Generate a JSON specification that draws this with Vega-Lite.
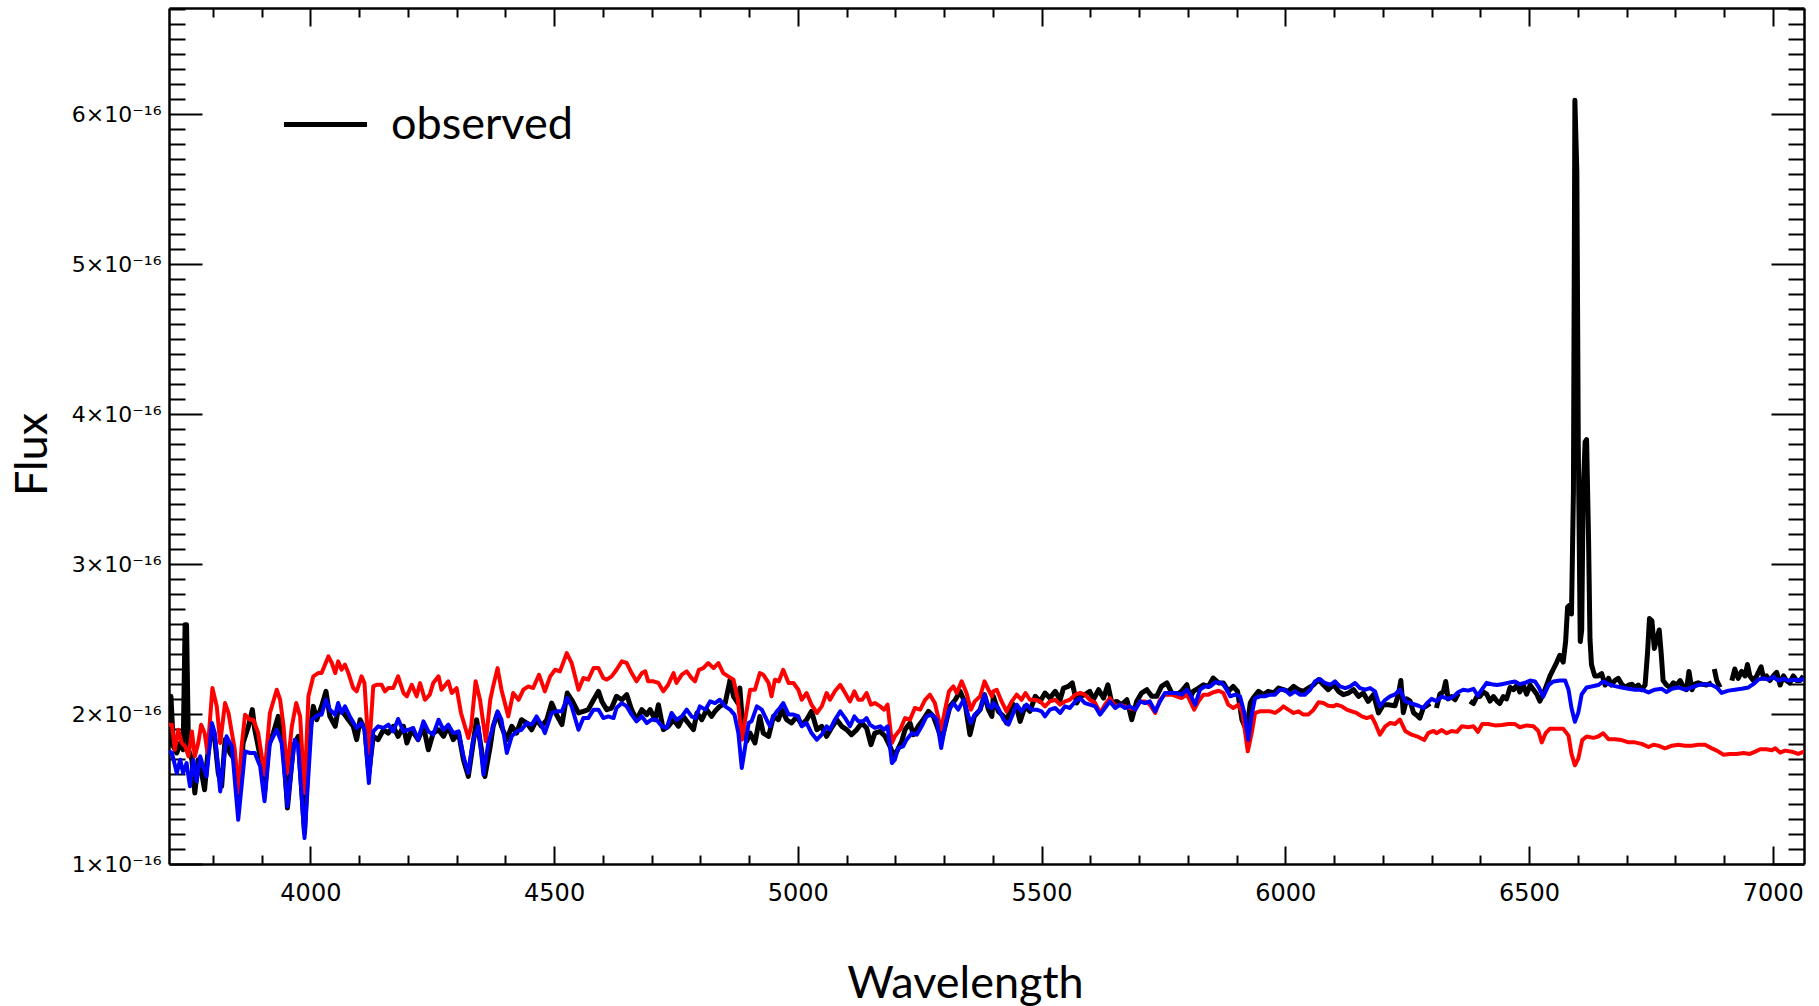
{
 "$schema": "https://vega.github.io/schema/vega-lite/v6.json",
 "width": 1635,
 "height": 856,
 "autosize": {"type": "none"},
 "padding": {"left": 169, "top": 8, "right": 15, "bottom": 142},
 "background": "white",
 "config": {
  "view": {"stroke": null},
  "axis": {"domainColor": "black", "domainWidth": 2.5, "tickColor": "black", "tickWidth": 2, "labelColor": "black", "titleColor": "black", "grid": false, "labelFont": "DejaVu Sans", "titleFont": "Lato", "titleFontWeight": "normal", "labelFlush": false, "labelOverlap": false}
 },
 "datasets": {
  "obs": [
{"w":3710,"f":1.784e-16},{"w":3714,"f":2.118e-16},{"w":3719,"f":1.784e-16},{"w":3726,"f":1.740e-16},{"w":3733,"f":1.807e-16},{"w":3739,"f":1.762e-16},{"w":3743,"f":2.595e-16},{"w":3746,"f":2.595e-16},{"w":3750,"f":1.762e-16},{"w":3757,"f":1.695e-16},{"w":3763,"f":1.473e-16},{"w":3770,"f":1.695e-16},{"w":3777,"f":1.607e-16},{"w":3783,"f":1.495e-16},{"w":3789,"f":1.718e-16},{"w":3798,"f":1.918e-16},{"w":3804,"f":1.829e-16},{"w":3811,"f":1.607e-16},{"w":3818,"f":1.518e-16},{"w":3825,"f":1.829e-16},{"w":3835,"f":1.740e-16},{"w":3845,"f":1.695e-16},{"w":3852,"f":1.384e-16},{"w":3862,"f":1.807e-16},{"w":3873,"f":1.918e-16},{"w":3881,"f":2.029e-16},{"w":3886,"f":1.895e-16},{"w":3897,"f":1.718e-16},{"w":3906,"f":1.473e-16},{"w":3914,"f":1.784e-16},{"w":3924,"f":1.873e-16},{"w":3934,"f":1.984e-16},{"w":3945,"f":1.762e-16},{"w":3953,"f":1.373e-16},{"w":3965,"f":1.784e-16},{"w":3975,"f":1.851e-16},{"w":3988,"f":1.207e-16},{"w":3997,"f":1.829e-16},{"w":4006,"f":2.051e-16},{"w":4013,"f":1.962e-16},{"w":4023,"f":2.051e-16},{"w":4032,"f":2.151e-16},{"w":4040,"f":1.984e-16},{"w":4051,"f":1.918e-16},{"w":4057,"f":2.029e-16},{"w":4068,"f":2.007e-16},{"w":4078,"f":1.962e-16},{"w":4088,"f":1.918e-16},{"w":4095,"f":1.829e-16},{"w":4102,"f":1.962e-16},{"w":4112,"f":1.895e-16},{"w":4120,"f":1.607e-16},{"w":4129,"f":1.851e-16},{"w":4139,"f":1.829e-16},{"w":4150,"f":1.895e-16},{"w":4160,"f":1.873e-16},{"w":4170,"f":1.918e-16},{"w":4180,"f":1.851e-16},{"w":4191,"f":1.918e-16},{"w":4198,"f":1.807e-16},{"w":4208,"f":1.895e-16},{"w":4221,"f":1.829e-16},{"w":4232,"f":1.918e-16},{"w":4242,"f":1.762e-16},{"w":4252,"f":1.873e-16},{"w":4263,"f":1.895e-16},{"w":4273,"f":1.851e-16},{"w":4283,"f":1.918e-16},{"w":4293,"f":1.829e-16},{"w":4304,"f":1.873e-16},{"w":4314,"f":1.695e-16},{"w":4324,"f":1.584e-16},{"w":4334,"f":1.807e-16},{"w":4341,"f":1.962e-16},{"w":4351,"f":1.762e-16},{"w":4358,"f":1.584e-16},{"w":4369,"f":1.784e-16},{"w":4375,"f":1.918e-16},{"w":4384,"f":2.007e-16},{"w":4392,"f":1.918e-16},{"w":4403,"f":1.829e-16},{"w":4413,"f":1.918e-16},{"w":4423,"f":1.873e-16},{"w":4433,"f":1.962e-16},{"w":4444,"f":1.940e-16},{"w":4454,"f":1.895e-16},{"w":4464,"f":1.962e-16},{"w":4474,"f":1.918e-16},{"w":4485,"f":1.962e-16},{"w":4495,"f":2.073e-16},{"w":4505,"f":1.995e-16},{"w":4516,"f":1.929e-16},{"w":4527,"f":2.140e-16},{"w":4536,"f":2.095e-16},{"w":4550,"f":2.007e-16},
{"w":4560,"f":2.018e-16},{"w":4570,"f":2.029e-16},{"w":4581,"f":2.095e-16},{"w":4591,"f":2.151e-16},{"w":4598,"f":2.084e-16},{"w":4608,"f":2.029e-16},{"w":4618,"f":2.040e-16},{"w":4628,"f":2.118e-16},{"w":4639,"f":2.095e-16},{"w":4649,"f":2.129e-16},{"w":4659,"f":2.029e-16},{"w":4669,"f":1.962e-16},{"w":4680,"f":2.029e-16},{"w":4690,"f":1.996e-16},{"w":4697,"f":2.029e-16},{"w":4707,"f":1.962e-16},{"w":4714,"f":2.062e-16},{"w":4724,"f":1.896e-16},{"w":4734,"f":1.918e-16},{"w":4745,"f":1.962e-16},{"w":4755,"f":1.918e-16},{"w":4765,"f":1.984e-16},{"w":4775,"f":1.940e-16},{"w":4786,"f":1.896e-16},{"w":4793,"f":2.007e-16},{"w":4803,"f":1.962e-16},{"w":4813,"f":2.029e-16},{"w":4823,"f":1.984e-16},{"w":4830,"f":2.018e-16},{"w":4840,"f":2.051e-16},{"w":4851,"f":2.073e-16},{"w":4861,"f":2.229e-16},{"w":4868,"f":2.118e-16},{"w":4877,"f":2.073e-16},{"w":4881,"f":2.173e-16},{"w":4888,"f":1.873e-16},{"w":4895,"f":1.818e-16},{"w":4902,"f":1.873e-16},{"w":4912,"f":1.807e-16},{"w":4922,"f":1.984e-16},{"w":4929,"f":1.873e-16},{"w":4940,"f":1.851e-16},{"w":4950,"f":1.984e-16},{"w":4960,"f":1.962e-16},{"w":4967,"f":2.029e-16},{"w":4977,"f":1.962e-16},{"w":4987,"f":1.940e-16},{"w":4998,"f":1.984e-16},{"w":5008,"f":1.929e-16},{"w":5018,"f":1.962e-16},{"w":5028,"f":2.018e-16},{"w":5039,"f":1.896e-16},{"w":5049,"f":1.918e-16},{"w":5059,"f":1.851e-16},{"w":5069,"f":1.907e-16},{"w":5080,"f":1.962e-16},{"w":5090,"f":1.918e-16},{"w":5100,"f":1.896e-16},{"w":5110,"f":1.862e-16},{"w":5121,"f":1.896e-16},{"w":5131,"f":1.940e-16},{"w":5141,"f":1.907e-16},{"w":5150,"f":1.796e-16},{"w":5158,"f":1.873e-16},{"w":5169,"f":1.884e-16},{"w":5179,"f":1.851e-16},{"w":5189,"f":1.784e-16},{"w":5196,"f":1.729e-16},{"w":5203,"f":1.751e-16},{"w":5213,"f":1.818e-16},{"w":5220,"f":1.896e-16},{"w":5230,"f":1.940e-16},{"w":5237,"f":1.862e-16},{"w":5247,"f":1.918e-16},{"w":5257,"f":1.962e-16},{"w":5268,"f":2.018e-16},{"w":5278,"f":1.984e-16},{"w":5288,"f":1.896e-16},{"w":5295,"f":1.829e-16},{"w":5302,"f":1.918e-16},{"w":5312,"f":2.051e-16},{"w":5323,"f":2.095e-16},{"w":5333,"f":2.151e-16},{"w":5343,"f":2.073e-16},{"w":5353,"f":1.862e-16},{"w":5362,"f":1.984e-16},{"w":5374,"f":2.029e-16},{"w":5383,"f":2.129e-16},{"w":5391,"f":2.029e-16},{"w":5398,"f":1.984e-16},
{"w":5401,"f":2.118e-16},{"w":5411,"f":2.018e-16},{"w":5422,"f":1.984e-16},{"w":5428,"f":1.940e-16},{"w":5439,"f":2.073e-16},{"w":5449,"f":2.040e-16},{"w":5456,"f":1.951e-16},{"w":5466,"f":2.051e-16},{"w":5476,"f":2.018e-16},{"w":5487,"f":2.118e-16},{"w":5497,"f":2.084e-16},{"w":5507,"f":2.140e-16},{"w":5517,"f":2.106e-16},{"w":5528,"f":2.151e-16},{"w":5538,"f":2.095e-16},{"w":5545,"f":2.173e-16},{"w":5555,"f":2.184e-16},{"w":5563,"f":2.207e-16},{"w":5572,"f":2.073e-16},{"w":5579,"f":2.118e-16},{"w":5589,"f":2.129e-16},{"w":5599,"f":2.151e-16},{"w":5606,"f":2.095e-16},{"w":5617,"f":2.162e-16},{"w":5627,"f":2.106e-16},{"w":5636,"f":2.195e-16},{"w":5644,"f":2.073e-16},{"w":5654,"f":2.084e-16},{"w":5664,"f":2.062e-16},{"w":5675,"f":2.095e-16},{"w":5685,"f":1.962e-16},{"w":5695,"f":2.084e-16},{"w":5705,"f":2.140e-16},{"w":5716,"f":2.162e-16},{"w":5726,"f":2.118e-16},{"w":5736,"f":2.118e-16},{"w":5746,"f":2.184e-16},{"w":5757,"f":2.207e-16},{"w":5767,"f":2.140e-16},{"w":5777,"f":2.129e-16},{"w":5787,"f":2.151e-16},{"w":5798,"f":2.195e-16},{"w":5805,"f":2.106e-16},{"w":5811,"f":2.151e-16},{"w":5822,"f":2.173e-16},{"w":5832,"f":2.195e-16},{"w":5842,"f":2.184e-16},{"w":5852,"f":2.240e-16},{"w":5863,"f":2.207e-16},{"w":5873,"f":2.207e-16},{"w":5883,"f":2.151e-16},{"w":5893,"f":2.184e-16},{"w":5902,"f":2.151e-16},{"w":5911,"f":1.962e-16},{"w":5921,"f":1.884e-16},{"w":5928,"f":2.073e-16},{"w":5934,"f":2.106e-16},{"w":5945,"f":2.151e-16},{"w":5955,"f":2.129e-16},{"w":5965,"f":2.151e-16},{"w":5976,"f":2.140e-16},{"w":5986,"f":2.173e-16},{"w":5996,"f":2.162e-16},{"w":6006,"f":2.151e-16},{"w":6017,"f":2.184e-16},{"w":6027,"f":2.162e-16},{"w":6037,"f":2.151e-16},{"w":6047,"f":2.173e-16},{"w":6058,"f":2.195e-16},{"w":6068,"f":2.229e-16},{"w":6078,"f":2.195e-16},{"w":6088,"f":2.162e-16},{"w":6099,"f":2.195e-16},{"w":6109,"f":2.151e-16},{"w":6119,"f":2.129e-16},{"w":6129,"f":2.140e-16},{"w":6140,"f":2.162e-16},{"w":6150,"f":2.118e-16},{"w":6160,"f":2.140e-16},{"w":6170,"f":2.084e-16},{"w":6181,"f":2.129e-16},{"w":6191,"f":2.007e-16},{"w":6201,"f":2.062e-16},{"w":6211,"f":2.062e-16},
{"w":6225,"f":2.055e-16},{"w":6232,"f":2.132e-16},{"w":6237,"f":2.223e-16},{"w":6242,"f":2.009e-16},{"w":6249,"f":2.101e-16},{"w":6256,"f":2.086e-16},{"w":6263,"f":2.009e-16},{"w":6269,"f":1.994e-16},{"w":6276,"f":1.973e-16},{"w":6283,"f":2.040e-16},{"w":6290,"f":2.055e-16},{"w":6297,"f":2.070e-16},{"w":6304,"f":null},{"w":6310,"f":2.040e-16},{"w":6317,"f":2.132e-16},{"w":6324,"f":2.147e-16},{"w":6329,"f":2.217e-16},{"w":6334,"f":2.101e-16},{"w":6341,"f":2.116e-16},{"w":6348,"f":2.095e-16},{"w":6355,"f":2.138e-16},{"w":6365,"f":null},{"w":6379,"f":2.086e-16},{"w":6386,"f":2.070e-16},{"w":6393,"f":2.116e-16},{"w":6399,"f":2.116e-16},{"w":6406,"f":2.147e-16},{"w":6413,"f":2.132e-16},{"w":6420,"f":2.086e-16},{"w":6427,"f":2.116e-16},{"w":6434,"f":2.086e-16},{"w":6440,"f":2.070e-16},{"w":6447,"f":2.116e-16},{"w":6454,"f":2.101e-16},{"w":6461,"f":2.177e-16},{"w":6468,"f":2.162e-16},{"w":6475,"f":2.193e-16},{"w":6481,"f":2.147e-16},{"w":6488,"f":2.193e-16},{"w":6495,"f":2.132e-16},{"w":6502,"f":2.193e-16},{"w":6509,"f":2.162e-16},{"w":6516,"f":2.132e-16},{"w":6522,"f":2.086e-16},{"w":6529,"f":2.132e-16},{"w":6536,"f":2.193e-16},{"w":6543,"f":2.254e-16},{"w":6550,"f":2.300e-16},{"w":6557,"f":2.346e-16},{"w":6563,"f":2.391e-16},{"w":6570,"f":2.346e-16},{"w":6575,"f":2.483e-16},{"w":6579,"f":2.713e-16},{"w":6584,"f":2.728e-16},{"w":6587,"f":2.667e-16},{"w":6591,"f":3.477e-16},{"w":6594,"f":6.092e-16},{"w":6598,"f":5.618e-16},{"w":6601,"f":3.783e-16},{"w":6605,"f":2.483e-16},{"w":6608,"f":2.560e-16},{"w":6611,"f":3.477e-16},{"w":6615,"f":3.814e-16},{"w":6618,"f":3.829e-16},{"w":6622,"f":3.171e-16},{"w":6625,"f":2.499e-16},{"w":6628,"f":2.330e-16},{"w":6632,"f":2.284e-16},{"w":6635,"f":2.254e-16},{"w":6642,"f":2.254e-16},{"w":6649,"f":2.269e-16},{"w":6656,"f":2.193e-16},{"w":6663,"f":2.238e-16},{"w":6669,"f":2.193e-16},{"w":6676,"f":2.223e-16},{"w":6683,"f":2.238e-16},{"w":6690,"f":2.199e-16},{"w":6697,"f":2.177e-16},{"w":6704,"f":2.193e-16},{"w":6711,"f":2.199e-16},{"w":6717,"f":2.177e-16},{"w":6724,"f":2.193e-16},{"w":6731,"f":2.162e-16},{"w":6738,"f":2.193e-16},{"w":6743,"f":2.407e-16},{"w":6747,"f":2.636e-16},{"w":6752,"f":2.621e-16},{"w":6757,"f":2.437e-16},{"w":6762,"f":2.499e-16},{"w":6767,"f":2.560e-16},{"w":6771,"f":2.407e-16},{"w":6775,"f":2.223e-16},{"w":6782,"f":2.193e-16},{"w":6789,"f":2.177e-16},{"w":6796,"f":2.208e-16},{"w":6803,"f":2.193e-16},{"w":6810,"f":2.223e-16},{"w":6817,"f":2.177e-16},{"w":6823,"f":2.162e-16},{"w":6828,"f":2.284e-16},{"w":6834,"f":2.162e-16},{"w":6840,"f":2.199e-16},{"w":6847,"f":2.208e-16},{"w":6854,"f":2.199e-16},{"w":6864,"f":2.193e-16},{"w":6875,"f":2.208e-16},{"w":6878,"f":null},{"w":6880,"f":2.300e-16},{"w":6885,"f":2.223e-16},{"w":6892,"f":2.177e-16},{"w":6900,"f":null},{"w":6916,"f":2.223e-16},{"w":6922,"f":2.300e-16},{"w":6929,"f":2.238e-16},{"w":6936,"f":2.284e-16},{"w":6943,"f":2.254e-16},{"w":6948,"f":2.330e-16},{"w":6953,"f":2.254e-16},{"w":6960,"f":2.223e-16},{"w":6967,"f":2.254e-16},{"w":6976,"f":2.315e-16},{"w":6981,"f":2.238e-16},{"w":6987,"f":2.254e-16},{"w":6994,"f":2.223e-16},{"w":7001,"f":2.254e-16},{"w":7008,"f":2.278e-16},{"w":7015,"f":2.193e-16},{"w":7022,"f":2.254e-16},{"w":7028,"f":2.223e-16},{"w":7035,"f":2.208e-16},{"w":7042,"f":2.254e-16},{"w":7049,"f":2.223e-16},{"w":7056,"f":2.223e-16},{"w":7063,"f":2.254e-16}
  ],
  "modA": [
{"w":3710,"f":1.929e-16},{"w":3716,"f":1.929e-16},{"w":3722,"f":1.762e-16},{"w":3729,"f":1.895e-16},{"w":3736,"f":1.807e-16},{"w":3743,"f":1.784e-16},{"w":3750,"f":1.718e-16},{"w":3757,"f":1.884e-16},{"w":3763,"f":1.718e-16},{"w":3770,"f":1.807e-16},{"w":3776,"f":1.929e-16},{"w":3783,"f":1.873e-16},{"w":3789,"f":1.740e-16},{"w":3799,"f":2.173e-16},{"w":3808,"f":2.051e-16},{"w":3815,"f":1.807e-16},{"w":3825,"f":2.073e-16},{"w":3832,"f":2.007e-16},{"w":3839,"f":1.873e-16},{"w":3845,"f":1.762e-16},{"w":3852,"f":1.473e-16},{"w":3859,"f":1.784e-16},{"w":3866,"f":1.995e-16},{"w":3876,"f":1.962e-16},{"w":3883,"f":1.962e-16},{"w":3893,"f":1.873e-16},{"w":3906,"f":1.595e-16},{"w":3917,"f":2.007e-16},{"w":3931,"f":2.162e-16},{"w":3938,"f":2.095e-16},{"w":3945,"f":1.918e-16},{"w":3952,"f":1.607e-16},{"w":3962,"f":1.918e-16},{"w":3971,"f":2.073e-16},{"w":3979,"f":1.984e-16},{"w":3988,"f":1.473e-16},{"w":3996,"f":2.118e-16},{"w":4006,"f":2.251e-16},{"w":4016,"f":2.273e-16},{"w":4023,"f":2.273e-16},{"w":4037,"f":2.384e-16},{"w":4044,"f":2.340e-16},{"w":4051,"f":2.273e-16},{"w":4057,"f":2.351e-16},{"w":4064,"f":2.295e-16},{"w":4071,"f":2.329e-16},{"w":4078,"f":2.273e-16},{"w":4088,"f":2.173e-16},{"w":4095,"f":2.151e-16},{"w":4105,"f":2.251e-16},{"w":4111,"f":2.206e-16},{"w":4120,"f":1.740e-16},{"w":4129,"f":2.184e-16},{"w":4136,"f":2.195e-16},{"w":4146,"f":2.195e-16},{"w":4153,"f":2.151e-16},{"w":4160,"f":2.173e-16},{"w":4170,"f":2.173e-16},{"w":4180,"f":2.251e-16},{"w":4191,"f":2.140e-16},{"w":4198,"f":2.118e-16},{"w":4208,"f":2.195e-16},{"w":4218,"f":2.118e-16},{"w":4225,"f":2.206e-16},{"w":4235,"f":2.095e-16},{"w":4245,"f":2.129e-16},{"w":4252,"f":2.206e-16},{"w":4263,"f":2.251e-16},{"w":4269,"f":2.162e-16},{"w":4283,"f":2.218e-16},{"w":4290,"f":2.140e-16},{"w":4300,"f":2.173e-16},{"w":4309,"f":2.007e-16},{"w":4324,"f":1.840e-16},{"w":4330,"f":1.918e-16},{"w":4339,"f":2.218e-16},{"w":4348,"f":2.095e-16},{"w":4360,"f":1.818e-16},{"w":4369,"f":2.095e-16},{"w":4375,"f":2.184e-16},{"w":4384,"f":2.306e-16},{"w":4392,"f":2.162e-16},{"w":4406,"f":1.984e-16},{"w":4416,"f":2.140e-16},{"w":4427,"f":2.095e-16},{"w":4437,"f":2.162e-16},{"w":4447,"f":2.184e-16},{"w":4457,"f":2.173e-16},{"w":4469,"f":2.262e-16},{"w":4481,"f":2.151e-16},{"w":4492,"f":2.251e-16},{"w":4502,"f":2.295e-16},{"w":4512,"f":2.284e-16},{"w":4526,"f":2.406e-16},{"w":4536,"f":2.340e-16},{"w":4550,"f":2.162e-16},
{"w":4560,"f":2.240e-16},{"w":4570,"f":2.229e-16},{"w":4581,"f":2.306e-16},{"w":4591,"f":2.306e-16},{"w":4601,"f":2.240e-16},{"w":4608,"f":2.229e-16},{"w":4618,"f":2.251e-16},{"w":4628,"f":2.295e-16},{"w":4639,"f":2.351e-16},{"w":4649,"f":2.340e-16},{"w":4659,"f":2.273e-16},{"w":4669,"f":2.218e-16},{"w":4680,"f":2.273e-16},{"w":4687,"f":2.284e-16},{"w":4693,"f":2.218e-16},{"w":4704,"f":2.218e-16},{"w":4714,"f":2.207e-16},{"w":4724,"f":2.151e-16},{"w":4734,"f":2.195e-16},{"w":4745,"f":2.273e-16},{"w":4751,"f":2.207e-16},{"w":4762,"f":2.262e-16},{"w":4772,"f":2.284e-16},{"w":4782,"f":2.240e-16},{"w":4789,"f":2.218e-16},{"w":4797,"f":2.295e-16},{"w":4806,"f":2.306e-16},{"w":4816,"f":2.340e-16},{"w":4827,"f":2.306e-16},{"w":4837,"f":2.340e-16},{"w":4847,"f":2.273e-16},{"w":4857,"f":2.251e-16},{"w":4868,"f":2.229e-16},{"w":4877,"f":2.095e-16},{"w":4885,"f":1.829e-16},{"w":4893,"f":1.984e-16},{"w":4902,"f":2.162e-16},{"w":4912,"f":2.162e-16},{"w":4922,"f":2.273e-16},{"w":4929,"f":2.262e-16},{"w":4940,"f":2.207e-16},{"w":4946,"f":2.118e-16},{"w":4953,"f":2.229e-16},{"w":4961,"f":2.218e-16},{"w":4970,"f":2.295e-16},{"w":4981,"f":2.207e-16},{"w":4991,"f":2.207e-16},{"w":5001,"f":2.162e-16},{"w":5008,"f":2.095e-16},{"w":5018,"f":2.140e-16},{"w":5028,"f":2.062e-16},{"w":5039,"f":2.007e-16},{"w":5049,"f":2.051e-16},{"w":5059,"f":2.140e-16},{"w":5066,"f":2.095e-16},{"w":5076,"f":2.151e-16},{"w":5087,"f":2.195e-16},{"w":5097,"f":2.140e-16},{"w":5107,"f":2.084e-16},{"w":5116,"f":2.151e-16},{"w":5124,"f":2.095e-16},{"w":5132,"f":2.095e-16},{"w":5141,"f":2.140e-16},{"w":5150,"f":2.062e-16},{"w":5158,"f":2.073e-16},{"w":5169,"f":2.051e-16},{"w":5177,"f":2.029e-16},{"w":5184,"f":2.062e-16},{"w":5193,"f":1.807e-16},{"w":5199,"f":1.851e-16},{"w":5210,"f":1.896e-16},{"w":5220,"f":1.973e-16},{"w":5230,"f":1.962e-16},{"w":5240,"f":2.040e-16},{"w":5251,"f":2.029e-16},{"w":5261,"f":2.095e-16},{"w":5271,"f":2.129e-16},{"w":5281,"f":2.073e-16},{"w":5294,"f":1.896e-16},{"w":5302,"f":2.029e-16},{"w":5310,"f":2.151e-16},{"w":5319,"f":2.184e-16},{"w":5326,"f":2.140e-16},{"w":5336,"f":2.218e-16},{"w":5346,"f":2.140e-16},{"w":5355,"f":2.029e-16},{"w":5363,"f":2.084e-16},{"w":5374,"f":2.118e-16},{"w":5383,"f":2.218e-16},{"w":5391,"f":2.162e-16},{"w":5398,"f":2.118e-16},
{"w":5401,"f":2.151e-16},{"w":5408,"f":2.162e-16},{"w":5418,"f":2.084e-16},{"w":5428,"f":2.018e-16},{"w":5439,"f":2.084e-16},{"w":5449,"f":2.129e-16},{"w":5459,"f":2.095e-16},{"w":5467,"f":2.140e-16},{"w":5476,"f":2.095e-16},{"w":5487,"f":2.095e-16},{"w":5497,"f":2.084e-16},{"w":5507,"f":2.051e-16},{"w":5517,"f":2.084e-16},{"w":5528,"f":2.095e-16},{"w":5538,"f":2.062e-16},{"w":5548,"f":2.084e-16},{"w":5558,"f":2.095e-16},{"w":5569,"f":2.129e-16},{"w":5579,"f":2.140e-16},{"w":5589,"f":2.129e-16},{"w":5599,"f":2.095e-16},{"w":5610,"f":2.073e-16},{"w":5620,"f":2.007e-16},{"w":5630,"f":2.062e-16},{"w":5640,"f":2.106e-16},{"w":5651,"f":2.051e-16},{"w":5661,"f":2.062e-16},{"w":5671,"f":2.051e-16},{"w":5681,"f":2.040e-16},{"w":5692,"f":2.029e-16},{"w":5702,"f":2.084e-16},{"w":5712,"f":2.084e-16},{"w":5722,"f":2.062e-16},{"w":5733,"f":2.007e-16},{"w":5743,"f":2.095e-16},{"w":5753,"f":2.129e-16},{"w":5767,"f":2.129e-16},{"w":5777,"f":2.118e-16},{"w":5787,"f":2.106e-16},{"w":5798,"f":2.129e-16},{"w":5805,"f":2.084e-16},{"w":5813,"f":2.029e-16},{"w":5822,"f":2.084e-16},{"w":5832,"f":2.129e-16},{"w":5842,"f":2.129e-16},{"w":5852,"f":2.144e-16},{"w":5863,"f":2.155e-16},{"w":5873,"f":2.140e-16},{"w":5883,"f":2.062e-16},{"w":5893,"f":2.040e-16},{"w":5904,"f":2.062e-16},{"w":5912,"f":2.007e-16},{"w":5923,"f":1.751e-16},{"w":5931,"f":1.873e-16},{"w":5938,"f":2.007e-16},{"w":5948,"f":2.018e-16},{"w":5958,"f":2.018e-16},{"w":5969,"f":2.018e-16},{"w":5979,"f":2.007e-16},{"w":5989,"f":2.029e-16},{"w":5996,"f":2.051e-16},{"w":6006,"f":2.029e-16},{"w":6017,"f":2.007e-16},{"w":6027,"f":2.018e-16},{"w":6037,"f":1.996e-16},{"w":6047,"f":1.996e-16},{"w":6058,"f":2.029e-16},{"w":6068,"f":2.078e-16},{"w":6078,"f":2.073e-16},{"w":6088,"f":2.055e-16},{"w":6099,"f":2.051e-16},{"w":6105,"f":2.062e-16},{"w":6116,"f":2.051e-16},{"w":6126,"f":2.029e-16},{"w":6136,"f":2.018e-16},{"w":6146,"f":2.007e-16},{"w":6157,"f":1.984e-16},{"w":6167,"f":1.973e-16},{"w":6177,"f":1.984e-16},{"w":6184,"f":1.940e-16},{"w":6194,"f":1.862e-16},{"w":6205,"f":1.918e-16},{"w":6215,"f":1.940e-16},
{"w":6225,"f":1.933e-16},{"w":6235,"f":1.963e-16},{"w":6246,"f":1.887e-16},{"w":6259,"f":1.862e-16},{"w":6273,"f":1.847e-16},{"w":6285,"f":1.826e-16},{"w":6293,"f":1.872e-16},{"w":6304,"f":1.887e-16},{"w":6310,"f":1.872e-16},{"w":6321,"f":1.893e-16},{"w":6331,"f":1.872e-16},{"w":6341,"f":1.887e-16},{"w":6352,"f":1.881e-16},{"w":6362,"f":1.918e-16},{"w":6375,"f":1.912e-16},{"w":6386,"f":1.918e-16},{"w":6395,"f":1.881e-16},{"w":6404,"f":1.933e-16},{"w":6416,"f":1.933e-16},{"w":6430,"f":1.924e-16},{"w":6444,"f":1.927e-16},{"w":6458,"f":1.933e-16},{"w":6471,"f":1.933e-16},{"w":6481,"f":1.912e-16},{"w":6495,"f":1.924e-16},{"w":6509,"f":1.918e-16},{"w":6519,"f":1.887e-16},{"w":6526,"f":1.811e-16},{"w":6534,"f":1.872e-16},{"w":6543,"f":1.902e-16},{"w":6557,"f":1.902e-16},{"w":6570,"f":1.902e-16},{"w":6581,"f":1.856e-16},{"w":6587,"f":1.734e-16},{"w":6594,"f":1.658e-16},{"w":6601,"f":1.703e-16},{"w":6609,"f":1.826e-16},{"w":6618,"f":1.850e-16},{"w":6632,"f":1.841e-16},{"w":6642,"f":1.850e-16},{"w":6652,"f":1.872e-16},{"w":6663,"f":1.832e-16},{"w":6676,"f":1.832e-16},{"w":6690,"f":1.826e-16},{"w":6704,"f":1.811e-16},{"w":6717,"f":1.811e-16},{"w":6731,"f":1.801e-16},{"w":6745,"f":1.780e-16},{"w":6755,"f":1.795e-16},{"w":6765,"f":1.789e-16},{"w":6779,"f":1.771e-16},{"w":6793,"f":1.789e-16},{"w":6806,"f":1.795e-16},{"w":6820,"f":1.789e-16},{"w":6834,"f":1.789e-16},{"w":6847,"f":1.795e-16},{"w":6861,"f":1.795e-16},{"w":6875,"f":1.771e-16},{"w":6885,"f":1.756e-16},{"w":6899,"f":1.728e-16},{"w":6912,"f":1.734e-16},{"w":6926,"f":1.734e-16},{"w":6940,"f":1.740e-16},{"w":6953,"f":1.734e-16},{"w":6964,"f":1.749e-16},{"w":6974,"f":1.765e-16},{"w":6987,"f":1.765e-16},{"w":6998,"f":1.759e-16},{"w":7005,"f":1.771e-16},{"w":7015,"f":1.743e-16},{"w":7025,"f":1.756e-16},{"w":7039,"f":1.749e-16},{"w":7052,"f":1.734e-16},{"w":7064,"f":1.749e-16}
  ],
  "modB": [
{"w":3710,"f":1.751e-16},{"w":3716,"f":1.740e-16},{"w":3726,"f":1.607e-16},{"w":3733,"f":1.695e-16},{"w":3739,"f":1.607e-16},{"w":3746,"f":1.673e-16},{"w":3753,"f":1.518e-16},{"w":3760,"f":1.695e-16},{"w":3767,"f":1.551e-16},{"w":3774,"f":1.718e-16},{"w":3780,"f":1.651e-16},{"w":3787,"f":1.584e-16},{"w":3798,"f":1.940e-16},{"w":3804,"f":1.873e-16},{"w":3815,"f":1.484e-16},{"w":3828,"f":1.851e-16},{"w":3839,"f":1.784e-16},{"w":3852,"f":1.295e-16},{"w":3866,"f":1.751e-16},{"w":3876,"f":1.740e-16},{"w":3886,"f":1.740e-16},{"w":3897,"f":1.651e-16},{"w":3906,"f":1.418e-16},{"w":3917,"f":1.807e-16},{"w":3931,"f":1.895e-16},{"w":3941,"f":1.807e-16},{"w":3953,"f":1.384e-16},{"w":3968,"f":1.829e-16},{"w":3975,"f":1.784e-16},{"w":3988,"f":1.173e-16},{"w":4003,"f":1.962e-16},{"w":4016,"f":1.995e-16},{"w":4023,"f":1.995e-16},{"w":4032,"f":2.095e-16},{"w":4040,"f":2.029e-16},{"w":4051,"f":1.995e-16},{"w":4057,"f":2.073e-16},{"w":4064,"f":2.007e-16},{"w":4071,"f":2.051e-16},{"w":4081,"f":1.984e-16},{"w":4095,"f":1.907e-16},{"w":4105,"f":1.940e-16},{"w":4111,"f":1.895e-16},{"w":4120,"f":1.540e-16},{"w":4129,"f":1.884e-16},{"w":4139,"f":1.918e-16},{"w":4150,"f":1.907e-16},{"w":4160,"f":1.929e-16},{"w":4170,"f":1.884e-16},{"w":4180,"f":1.967e-16},{"w":4191,"f":1.884e-16},{"w":4201,"f":1.895e-16},{"w":4211,"f":1.907e-16},{"w":4221,"f":1.829e-16},{"w":4232,"f":1.951e-16},{"w":4242,"f":1.884e-16},{"w":4252,"f":1.862e-16},{"w":4263,"f":1.962e-16},{"w":4273,"f":1.895e-16},{"w":4283,"f":1.929e-16},{"w":4293,"f":1.873e-16},{"w":4304,"f":1.884e-16},{"w":4314,"f":1.718e-16},{"w":4324,"f":1.607e-16},{"w":4334,"f":1.829e-16},{"w":4345,"f":1.918e-16},{"w":4355,"f":1.595e-16},{"w":4365,"f":1.807e-16},{"w":4375,"f":1.918e-16},{"w":4384,"f":2.018e-16},{"w":4392,"f":1.962e-16},{"w":4403,"f":1.740e-16},{"w":4413,"f":1.851e-16},{"w":4423,"f":1.884e-16},{"w":4433,"f":1.895e-16},{"w":4444,"f":1.940e-16},{"w":4454,"f":1.929e-16},{"w":4464,"f":1.984e-16},{"w":4474,"f":1.929e-16},{"w":4481,"f":1.873e-16},{"w":4495,"f":2.007e-16},{"w":4505,"f":2.018e-16},{"w":4516,"f":2.018e-16},{"w":4527,"f":2.107e-16},{"w":4536,"f":2.051e-16},{"w":4550,"f":1.895e-16},
{"w":4560,"f":1.973e-16},{"w":4570,"f":1.973e-16},{"w":4581,"f":2.029e-16},{"w":4591,"f":2.029e-16},{"w":4601,"f":1.973e-16},{"w":4611,"f":1.984e-16},{"w":4622,"f":1.973e-16},{"w":4628,"f":2.040e-16},{"w":4639,"f":2.073e-16},{"w":4649,"f":2.051e-16},{"w":4659,"f":1.996e-16},{"w":4669,"f":1.951e-16},{"w":4680,"f":1.984e-16},{"w":4690,"f":1.940e-16},{"w":4700,"f":1.962e-16},{"w":4710,"f":1.962e-16},{"w":4721,"f":1.918e-16},{"w":4731,"f":1.907e-16},{"w":4741,"f":2.007e-16},{"w":4751,"f":1.962e-16},{"w":4762,"f":1.984e-16},{"w":4772,"f":2.029e-16},{"w":4782,"f":1.984e-16},{"w":4790,"f":1.973e-16},{"w":4799,"f":2.051e-16},{"w":4810,"f":2.029e-16},{"w":4820,"f":2.084e-16},{"w":4830,"f":2.073e-16},{"w":4840,"f":2.095e-16},{"w":4851,"f":2.051e-16},{"w":4861,"f":2.029e-16},{"w":4870,"f":1.996e-16},{"w":4878,"f":1.873e-16},{"w":4885,"f":1.640e-16},{"w":4892,"f":1.784e-16},{"w":4899,"f":1.940e-16},{"w":4905,"f":1.951e-16},{"w":4916,"f":2.051e-16},{"w":4926,"f":2.029e-16},{"w":4936,"f":1.962e-16},{"w":4943,"f":1.918e-16},{"w":4950,"f":1.984e-16},{"w":4957,"f":2.018e-16},{"w":4963,"f":2.040e-16},{"w":4970,"f":2.073e-16},{"w":4981,"f":1.996e-16},{"w":4991,"f":1.996e-16},{"w":5001,"f":1.984e-16},{"w":5008,"f":1.918e-16},{"w":5018,"f":1.940e-16},{"w":5028,"f":1.873e-16},{"w":5039,"f":1.829e-16},{"w":5049,"f":1.862e-16},{"w":5059,"f":1.918e-16},{"w":5066,"f":1.896e-16},{"w":5076,"f":1.962e-16},{"w":5087,"f":2.018e-16},{"w":5097,"f":1.973e-16},{"w":5107,"f":1.918e-16},{"w":5116,"f":1.984e-16},{"w":5124,"f":1.951e-16},{"w":5134,"f":1.951e-16},{"w":5141,"f":1.973e-16},{"w":5148,"f":1.929e-16},{"w":5158,"f":1.907e-16},{"w":5169,"f":1.918e-16},{"w":5177,"f":1.896e-16},{"w":5184,"f":1.918e-16},{"w":5193,"f":1.673e-16},{"w":5199,"f":1.695e-16},{"w":5206,"f":1.773e-16},{"w":5216,"f":1.784e-16},{"w":5223,"f":1.829e-16},{"w":5234,"f":1.873e-16},{"w":5244,"f":1.862e-16},{"w":5254,"f":1.918e-16},{"w":5264,"f":1.984e-16},{"w":5275,"f":1.996e-16},{"w":5285,"f":1.962e-16},{"w":5294,"f":1.773e-16},{"w":5302,"f":1.918e-16},{"w":5309,"f":2.018e-16},{"w":5319,"f":2.073e-16},{"w":5329,"f":2.029e-16},{"w":5340,"f":2.095e-16},{"w":5350,"f":1.984e-16},{"w":5355,"f":1.940e-16},{"w":5363,"f":1.996e-16},{"w":5374,"f":2.029e-16},{"w":5383,"f":2.129e-16},{"w":5391,"f":2.051e-16},{"w":5398,"f":2.040e-16},
{"w":5401,"f":2.073e-16},{"w":5411,"f":2.040e-16},{"w":5422,"f":1.962e-16},{"w":5432,"f":1.929e-16},{"w":5442,"f":2.007e-16},{"w":5449,"f":2.062e-16},{"w":5459,"f":2.018e-16},{"w":5469,"f":2.062e-16},{"w":5480,"f":2.029e-16},{"w":5490,"f":2.029e-16},{"w":5500,"f":2.018e-16},{"w":5507,"f":1.984e-16},{"w":5517,"f":2.029e-16},{"w":5528,"f":2.040e-16},{"w":5538,"f":2.007e-16},{"w":5548,"f":2.051e-16},{"w":5558,"f":2.040e-16},{"w":5569,"f":2.084e-16},{"w":5579,"f":2.106e-16},{"w":5589,"f":2.073e-16},{"w":5599,"f":2.062e-16},{"w":5610,"f":2.051e-16},{"w":5620,"f":1.996e-16},{"w":5630,"f":2.040e-16},{"w":5640,"f":2.084e-16},{"w":5651,"f":2.040e-16},{"w":5661,"f":2.062e-16},{"w":5671,"f":2.040e-16},{"w":5681,"f":2.051e-16},{"w":5692,"f":2.029e-16},{"w":5702,"f":2.084e-16},{"w":5712,"f":2.073e-16},{"w":5722,"f":2.084e-16},{"w":5733,"f":2.018e-16},{"w":5743,"f":2.084e-16},{"w":5753,"f":2.140e-16},{"w":5767,"f":2.140e-16},{"w":5777,"f":2.140e-16},{"w":5787,"f":2.129e-16},{"w":5798,"f":2.162e-16},{"w":5805,"f":2.129e-16},{"w":5815,"f":2.062e-16},{"w":5825,"f":2.162e-16},{"w":5835,"f":2.184e-16},{"w":5846,"f":2.184e-16},{"w":5856,"f":2.211e-16},{"w":5870,"f":2.207e-16},{"w":5878,"f":2.173e-16},{"w":5887,"f":2.118e-16},{"w":5897,"f":2.129e-16},{"w":5907,"f":2.118e-16},{"w":5916,"f":2.007e-16},{"w":5924,"f":1.829e-16},{"w":5931,"f":1.996e-16},{"w":5938,"f":2.106e-16},{"w":5948,"f":2.118e-16},{"w":5958,"f":2.118e-16},{"w":5969,"f":2.129e-16},{"w":5979,"f":2.129e-16},{"w":5989,"f":2.162e-16},{"w":5999,"f":2.162e-16},{"w":6010,"f":2.129e-16},{"w":6020,"f":2.151e-16},{"w":6030,"f":2.129e-16},{"w":6040,"f":2.129e-16},{"w":6051,"f":2.162e-16},{"w":6061,"f":2.218e-16},{"w":6071,"f":2.233e-16},{"w":6081,"f":2.207e-16},{"w":6092,"f":2.195e-16},{"w":6102,"f":2.218e-16},{"w":6112,"f":2.184e-16},{"w":6123,"f":2.173e-16},{"w":6133,"f":2.184e-16},{"w":6143,"f":2.207e-16},{"w":6153,"f":2.173e-16},{"w":6164,"f":2.162e-16},{"w":6174,"f":2.173e-16},{"w":6184,"f":2.151e-16},{"w":6194,"f":2.051e-16},{"w":6205,"f":2.095e-16},{"w":6215,"f":2.118e-16},
{"w":6225,"f":2.131e-16},{"w":6235,"f":2.162e-16},{"w":6246,"f":2.086e-16},{"w":6259,"f":2.070e-16},{"w":6273,"f":2.055e-16},{"w":6283,"f":2.040e-16},{"w":6290,"f":2.070e-16},{"w":6300,"f":2.101e-16},{"w":6310,"f":2.086e-16},{"w":6321,"f":2.116e-16},{"w":6334,"f":2.101e-16},{"w":6345,"f":2.116e-16},{"w":6355,"f":2.147e-16},{"w":6365,"f":2.162e-16},{"w":6375,"f":2.156e-16},{"w":6386,"f":2.168e-16},{"w":6395,"f":2.122e-16},{"w":6403,"f":2.162e-16},{"w":6413,"f":2.208e-16},{"w":6423,"f":2.199e-16},{"w":6434,"f":2.193e-16},{"w":6444,"f":2.199e-16},{"w":6458,"f":2.208e-16},{"w":6471,"f":2.217e-16},{"w":6481,"f":2.199e-16},{"w":6492,"f":2.208e-16},{"w":6502,"f":2.223e-16},{"w":6512,"f":2.217e-16},{"w":6520,"f":2.177e-16},{"w":6529,"f":2.116e-16},{"w":6540,"f":2.193e-16},{"w":6550,"f":2.217e-16},{"w":6563,"f":2.223e-16},{"w":6574,"f":2.223e-16},{"w":6581,"f":2.162e-16},{"w":6587,"f":2.040e-16},{"w":6594,"f":1.948e-16},{"w":6601,"f":2.009e-16},{"w":6608,"f":2.132e-16},{"w":6618,"f":2.177e-16},{"w":6628,"f":2.183e-16},{"w":6642,"f":2.193e-16},{"w":6652,"f":2.217e-16},{"w":6663,"f":2.199e-16},{"w":6676,"f":2.186e-16},{"w":6690,"f":2.177e-16},{"w":6704,"f":2.168e-16},{"w":6717,"f":2.162e-16},{"w":6731,"f":2.162e-16},{"w":6745,"f":2.144e-16},{"w":6758,"f":2.162e-16},{"w":6772,"f":2.168e-16},{"w":6782,"f":2.147e-16},{"w":6793,"f":2.168e-16},{"w":6806,"f":2.177e-16},{"w":6820,"f":2.162e-16},{"w":6834,"f":2.177e-16},{"w":6847,"f":2.193e-16},{"w":6861,"f":2.199e-16},{"w":6875,"f":2.193e-16},{"w":6885,"f":2.177e-16},{"w":6895,"f":2.141e-16},{"w":6909,"f":2.156e-16},{"w":6922,"f":2.162e-16},{"w":6936,"f":2.168e-16},{"w":6950,"f":2.177e-16},{"w":6960,"f":2.199e-16},{"w":6970,"f":2.229e-16},{"w":6981,"f":2.238e-16},{"w":6991,"f":2.229e-16},{"w":7001,"f":2.247e-16},{"w":7011,"f":2.223e-16},{"w":7022,"f":2.235e-16},{"w":7032,"f":2.223e-16},{"w":7046,"f":2.229e-16},{"w":7056,"f":2.223e-16},{"w":7064,"f":2.238e-16}
  ]
 },
 "layer": [
  {
   "data": {"name": "obs"},
   "mark": {"type": "line", "strokeWidth": 5, "strokeJoin": "round", "clip": true, "invalid": "break-paths-filter-domains"},
   "encoding": {
    "x": {"field": "w", "type": "quantitative", "scale": {"domain": [3710, 7064], "nice": false, "zero": false},
     "axis": {"orient": "bottom", "values": [4000, 4500, 5000, 5500, 6000, 6500, 7000], "format": "d", "tickSize": -18, "labelPadding": 35, "labelFontSize": 24, "title": "Wavelength", "titleFontSize": 45, "titleX": 796, "titleY": 133, "titleBaseline": "alphabetic", "domain": true}},
    "y": {"field": "f", "type": "quantitative", "scale": {"domain": [1e-16, 6.707e-16], "nice": false, "zero": false},
     "axis": {"orient": "left", "values": [1e-16, 2e-16, 3e-16, 4e-16, 5e-16, 6e-16], "tickSize": -33, "labelPadding": 41, "labelFontSize": 22, "labelExpr": "round(datum.value*1e16) + '×10⁻¹⁶'", "title": "Flux", "titleFontSize": 45, "titleX": -123, "titleY": 446, "titleAngle": -90, "titleBaseline": "alphabetic", "domain": true}},
    "color": {"datum": "observed", "type": "nominal",
     "scale": {"domain": ["observed", "model A", "model B"], "range": ["#000000", "#ff0000", "#0000ff"]},
     "legend": {"orient": "none", "legendX": 112, "legendY": 72, "title": null, "values": ["observed"], "symbolType": "stroke", "symbolSize": 6900, "symbolStrokeWidth": 5, "labelFontSize": 45, "labelFont": "Lato", "labelColor": "black", "labelOffset": 21, "labelLimit": 0, "padding": 0}}
   }
  },
  {
   "data": {"name": "modA"},
   "mark": {"type": "line", "strokeWidth": 4, "strokeJoin": "round", "clip": true},
   "encoding": {
    "x": {"field": "w", "type": "quantitative",
     "axis": {"orient": "bottom", "values": [3800, 3900, 4100, 4200, 4300, 4400, 4600, 4700, 4800, 4900, 5100, 5200, 5300, 5400, 5600, 5700, 5800, 5900, 6100, 6200, 6300, 6400, 6600, 6700, 6800, 6900], "tickSize": -9, "labels": false, "domain": false, "title": null}},
    "y": {"field": "f", "type": "quantitative",
     "axis": {"orient": "left", "values": [1.1e-16, 1.2e-16, 1.3e-16, 1.4e-16, 1.5e-16, 1.6e-16, 1.7e-16, 1.8e-16, 1.9e-16, 2.1e-16, 2.2e-16, 2.3e-16, 2.4e-16, 2.5e-16, 2.6e-16, 2.7e-16, 2.8e-16, 2.9e-16, 3.1e-16, 3.2e-16, 3.3e-16, 3.4e-16, 3.5e-16, 3.6e-16, 3.7e-16, 3.8e-16, 3.9e-16, 4.1e-16, 4.2e-16, 4.3e-16, 4.4e-16, 4.5e-16, 4.6e-16, 4.7e-16, 4.8e-16, 4.9e-16, 5.1e-16, 5.2e-16, 5.3e-16, 5.4e-16, 5.5e-16, 5.6e-16, 5.7e-16, 5.8e-16, 5.9e-16, 6.1e-16, 6.2e-16, 6.3e-16, 6.4e-16, 6.5e-16, 6.6e-16, 6.7e-16], "tickSize": -16, "labels": false, "domain": false, "title": null}},
    "color": {"datum": "model A", "type": "nominal"}
   }
  },
  {
   "data": {"name": "modB"},
   "mark": {"type": "line", "strokeWidth": 4, "strokeJoin": "round", "clip": true},
   "encoding": {
    "x": {"field": "w", "type": "quantitative",
     "axis": {"orient": "top", "values": [4000, 4500, 5000, 5500, 6000, 6500, 7000], "tickSize": -18, "labels": false, "domain": true, "title": null}},
    "y": {"field": "f", "type": "quantitative",
     "axis": {"orient": "right", "values": [1e-16, 2e-16, 3e-16, 4e-16, 5e-16, 6e-16], "tickSize": -33, "labels": false, "domain": true, "title": null}},
    "color": {"datum": "model B", "type": "nominal"}
   }
  },
  {
   "data": {"name": "modB"},
   "mark": {"type": "line", "opacity": 0, "clip": true},
   "encoding": {
    "x": {"field": "w", "type": "quantitative",
     "axis": {"orient": "top", "values": [3800, 3900, 4100, 4200, 4300, 4400, 4600, 4700, 4800, 4900, 5100, 5200, 5300, 5400, 5600, 5700, 5800, 5900, 6100, 6200, 6300, 6400, 6600, 6700, 6800, 6900], "tickSize": -9, "labels": false, "domain": false, "title": null}},
    "y": {"field": "f", "type": "quantitative",
     "axis": {"orient": "right", "values": [1.1e-16, 1.2e-16, 1.3e-16, 1.4e-16, 1.5e-16, 1.6e-16, 1.7e-16, 1.8e-16, 1.9e-16, 2.1e-16, 2.2e-16, 2.3e-16, 2.4e-16, 2.5e-16, 2.6e-16, 2.7e-16, 2.8e-16, 2.9e-16, 3.1e-16, 3.2e-16, 3.3e-16, 3.4e-16, 3.5e-16, 3.6e-16, 3.7e-16, 3.8e-16, 3.9e-16, 4.1e-16, 4.2e-16, 4.3e-16, 4.4e-16, 4.5e-16, 4.6e-16, 4.7e-16, 4.8e-16, 4.9e-16, 5.1e-16, 5.2e-16, 5.3e-16, 5.4e-16, 5.5e-16, 5.6e-16, 5.7e-16, 5.8e-16, 5.9e-16, 6.1e-16, 6.2e-16, 6.3e-16, 6.4e-16, 6.5e-16, 6.6e-16, 6.7e-16], "tickSize": -16, "labels": false, "domain": false, "title": null}}
   }
  }
 ],
 "resolve": {"axis": {"x": "independent", "y": "independent"}}
}
